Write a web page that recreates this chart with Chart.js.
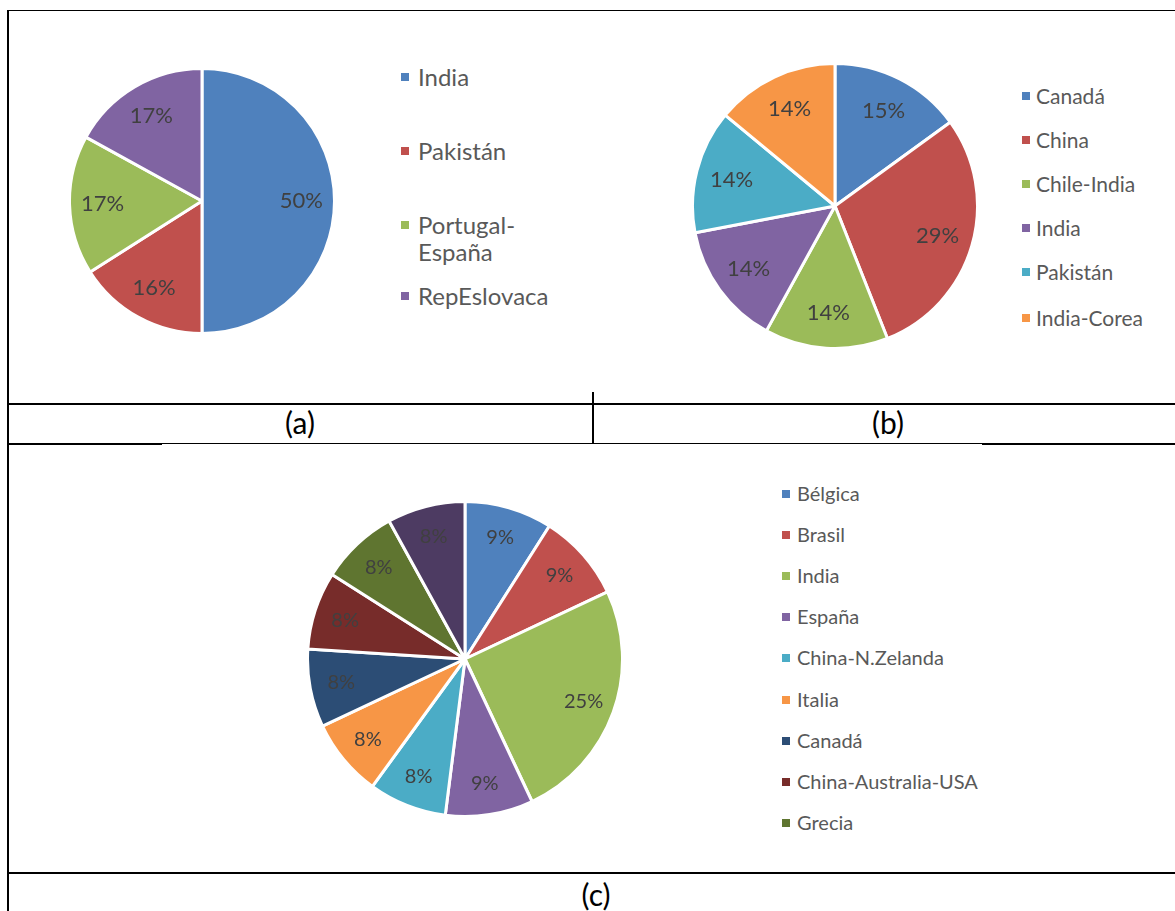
<!DOCTYPE html>
<html>
<head>
<meta charset="utf-8">
<script src="https://cdn.jsdelivr.net/npm/chart.js@4.4.0/dist/chart.umd.min.js"></script>
<style>
  body { margin: 0; background: #fff; width: 1175px; height: 911px; overflow: hidden; position: relative; font-family: Lato, "Open Sans", sans-serif; }
  .ln { position: absolute; background: #000; }
  .box { position: absolute; }
  .cap { position: absolute; font-size: 30px; color: #000; text-align: center; line-height: 32px; }
  .leg { position: absolute; color: #595959; }
  .leg .item { position: absolute; left: 0; white-space: normal; }
  .leg .sq { position: absolute; width: 8px; height: 8px; }
</style>
</head>
<body>

<div class="ln" style="left:7px; top:10px; width:1168px; height:1px;"></div>
<div class="ln" style="left:7px; top:10px; width:2px; height:901px;"></div>
<div class="ln" style="left:7px; top:403px; width:1168px; height:2px;"></div>
<div class="ln" style="left:592px; top:392px; width:2px; height:52px;"></div>
<div class="ln" style="left:7px; top:443px; width:1168px; height:1px;"></div>
<div class="ln" style="left:7px; top:443px; width:155px; height:2px;"></div>
<div class="ln" style="left:982px; top:443px; width:193px; height:2px;"></div>
<div class="ln" style="left:7px; top:872px; width:1168px; height:2px;"></div>

<div class="cap" style="left:200px; top:406px; width:200px;">(a)</div>
<div class="cap" style="left:788px; top:406px; width:200px;">(b)</div>
<div class="cap" style="left:496px; top:878px; width:200px;">(c)</div>

<div class="box" style="left:68px; top:67px; width:268px; height:268px;"><canvas id="chartA"></canvas></div>
<div class="box" style="left:691px; top:62px; width:288px; height:288px;"><canvas id="chartB"></canvas></div>
<div class="box" style="left:306px; top:500px; width:318px; height:318px;"><canvas id="chartC"></canvas></div>

<div class="leg" id="legA" style="left:401px; top:0px; width:175px; font-size:24px; line-height:27px;"></div>
<div class="leg" id="legB" style="left:1022px; top:0px; width:150px; font-size:21px; line-height:24px;"></div>
<div class="leg" id="legC" style="left:782px; top:0px; width:300px; font-size:20px; line-height:23px;"></div>

<script>
// (a)
const labelsA = ["India", "Pakistán", "Portugal-España", "RepEslovaca"];
const valuesA = [50, 16, 17, 17];
const colorsA = ["#4F81BD", "#C0504D", "#9BBB59", "#8064A2"];

// (b)
const labelsB = ["Canadá", "China", "Chile-India", "India", "Pakistán", "India-Corea"];
const valuesB = [15, 29, 14, 14, 14, 14];
const colorsB = ["#4F81BD", "#C0504D", "#9BBB59", "#8064A2", "#4BACC6", "#F79646"];

// (c) - last slice has no entry in the legend
const labelsC = ["Bélgica", "Brasil", "India", "España", "China-N.Zelanda", "Italia", "Canadá", "China-Australia-USA", "Grecia", ""];
const valuesC = [9, 9, 25, 9, 8, 8, 8, 8, 8, 8];
const colorsC = ["#4F81BD", "#C0504D", "#9BBB59", "#8064A2", "#4BACC6", "#F79646", "#2C4D75", "#772C2A", "#5F7530", "#4D3B62"];

// percent labels inside the slices
const pctLabels = {
  id: "pctLabels",
  afterDatasetsDraw(chart, args, opts) {
    const ctx = chart.ctx;
    const meta = chart.getDatasetMeta(0);
    const data = chart.data.datasets[0].data;
    ctx.save();
    ctx.font = opts.size + "px Lato";
    ctx.fillStyle = "#404040";
    ctx.textAlign = "center";
    ctx.textBaseline = "middle";
    meta.data.forEach((arc, i) => {
      const p = arc.getProps(["x", "y", "startAngle", "endAngle", "outerRadius"], true);
      const mid = (p.startAngle + p.endAngle) / 2;
      const r = p.outerRadius * opts.dist;
      ctx.fillText(data[i] + "%", p.x + Math.cos(mid) * r, p.y + Math.sin(mid) * r);
    });
    ctx.restore();
  },
};

function makePie(id, labels, values, colors, fontSize, dist) {
  return new Chart(document.getElementById(id), {
    type: "pie",
    data: {
      labels: labels,
      datasets: [
        {
          data: values,
          backgroundColor: colors,
          borderColor: "#ffffff",
          borderWidth: 3,
        },
      ],
    },
    options: {
      responsive: true,
      maintainAspectRatio: false,
      animation: false,
      layout: { padding: 0 },
      plugins: {
        legend: { display: false },
        tooltip: { enabled: false },
        pctLabels: { size: fontSize, dist: dist },
      },
    },
    plugins: [pctLabels],
  });
}

// html legend built from the chart's own legend items
function buildLegend(chart, elId, tops, textLeft, sqTop) {
  const el = document.getElementById(elId);
  const items = Chart.overrides.pie.plugins.legend.labels.generateLabels(chart);
  let k = 0;
  items.forEach((item) => {
    if (!item.text) return;
    const div = document.createElement("div");
    div.className = "item";
    div.style.top = tops[k] + "px";
    const sq = document.createElement("span");
    sq.className = "sq";
    sq.style.background = item.fillStyle;
    sq.style.left = "0px";
    sq.style.top = sqTop + "px";
    const txt = document.createElement("span");
    txt.style.display = "block";
    txt.style.marginLeft = textLeft + "px";
    txt.textContent = item.text;
    div.appendChild(sq);
    div.appendChild(txt);
    el.appendChild(div);
    k++;
  });
}

const chartA = makePie("chartA", labelsA, valuesA, colorsA, 22, 0.75);
const chartB = makePie("chartB", labelsB, valuesB, colorsB, 22, 0.75);
const chartC = makePie("chartC", labelsC, valuesC, colorsC, 20, 0.8);

buildLegend(chartA, "legA", [63, 137, 211, 282], 17, 10);
buildLegend(chartB, "legB", [84, 128, 172, 216, 260, 306], 14, 8);
buildLegend(chartC, "legC", [482, 523, 564, 605, 646, 688, 729, 770, 811], 15, 8);
</script>
</body>
</html>
